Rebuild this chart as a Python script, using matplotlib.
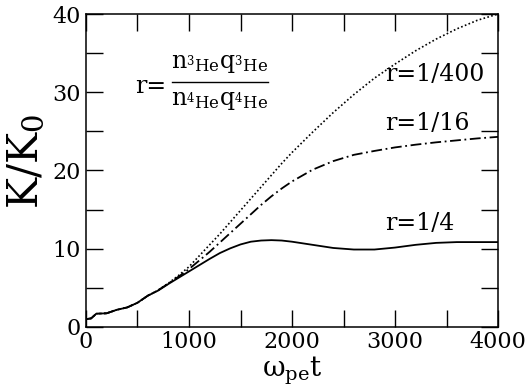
import numpy as np
import matplotlib
matplotlib.use('Agg')
import matplotlib.pyplot as plt
from matplotlib.ticker import MultipleLocator

plt.rcParams['font.family'] = ['DejaVu Serif']
plt.rcParams['mathtext.fontset'] = 'dejavuserif'

# time axis (omega_pe t) and K/K0 for the three density ratios
t = [0, 50, 100, 200, 300, 400, 500, 600, 700, 800, 900, 1000, 1100, 1200,
     1300, 1400, 1500, 1600, 1700, 1800, 1900, 2000, 2200, 2400, 2600, 2800,
     3000, 3200, 3400, 3600, 3800, 4000]

k_r4 = [1.0, 1.1, 1.7, 1.75, 2.2, 2.5, 3.1, 4.0, 4.65, 5.5, 6.3, 7.1, 7.9, 8.7,
        9.45, 10.05, 10.55, 10.9, 11.05, 11.1, 11.05, 10.9, 10.5, 10.1, 9.9, 9.9,
        10.15, 10.5, 10.75, 10.85, 10.85, 10.85]

k_r16 = [1.0, 1.1, 1.7, 1.75, 2.2, 2.5, 3.1, 4.0, 4.7, 5.55, 6.45, 7.4, 8.5, 9.6,
         10.8, 12.0, 13.2, 14.4, 15.6, 16.7, 17.7, 18.6, 20.1, 21.2, 22.0, 22.5,
         22.95, 23.3, 23.6, 23.85, 24.1, 24.3]

k_r400 = [1.0, 1.1, 1.7, 1.75, 2.2, 2.5, 3.1, 4.0, 4.7, 5.6, 6.6, 7.7, 9.1, 10.5,
          11.9, 13.4, 14.9, 16.4, 17.9, 19.4, 20.9, 22.3, 24.9, 27.4, 29.7, 31.8,
          33.6, 35.3, 36.8, 38.1, 39.2, 40.0]

fig = plt.figure(figsize=(5.25, 3.89), dpi=100)
ax = fig.add_axes([0.1638, 0.1594, 0.7848, 0.8046])

ax.plot(t, k_r4, color='black', lw=1.3, ls='-')
ax.plot(t, k_r16, color='black', lw=1.3, ls=(0, (6, 2, 1, 2)))
ax.plot(t, k_r400, color='black', lw=1.2, ls=(0, (1, 1.4)))

ax.set_xlim(0, 4000)
ax.set_ylim(0, 40)
ax.xaxis.set_major_locator(MultipleLocator(1000))
ax.xaxis.set_minor_locator(MultipleLocator(500))
ax.yaxis.set_major_locator(MultipleLocator(10))
ax.yaxis.set_minor_locator(MultipleLocator(5))
ax.tick_params(which='both', direction='in', top=True, right=True,
               length=12.5, width=1.0, labelsize=16)
ax.tick_params(axis='x', pad=3)
ax.tick_params(axis='y', pad=4)
for s in ax.spines.values():
    s.set_linewidth(1.1)

ax.set_xlabel(r'$\mathrm{ω_{pe}t}$', fontsize=20)
ax.set_ylabel(r'K/K$_0$', fontsize=30)
ax.xaxis.set_label_coords(0.5, -0.09)
ax.yaxis.set_label_coords(-0.095, 0.53)

ax.text(2903, 31.4, 'r=1/400', fontsize=17, va='baseline')
ax.text(2903, 25.2, 'r=1/16', fontsize=17, va='baseline')
ax.text(2903, 12.4, 'r=1/4', fontsize=17, va='baseline')

# r = (n_3He q_3He) / (n_4He q_4He), written as a stacked fraction
ax.text(0.119, 0.7476, 'r=', fontsize=17, va='baseline', transform=ax.transAxes)
ax.text(0.325, 0.8275,
        r'$\mathrm{n}_{{}^3\mathrm{He}}\mathrm{q}_{{}^3\mathrm{He}}$',
        fontsize=17, ha='center', va='baseline', transform=ax.transAxes)
ax.text(0.325, 0.709,
        r'$\mathrm{n}_{{}^4\mathrm{He}}\mathrm{q}_{{}^4\mathrm{He}}$',
        fontsize=17, ha='center', va='baseline', transform=ax.transAxes)
ax.plot([0.209, 0.442], [0.7827, 0.7827], color='black', lw=1.0,
        transform=ax.transAxes, clip_on=False)

fig.savefig('out.png', dpi=100)
